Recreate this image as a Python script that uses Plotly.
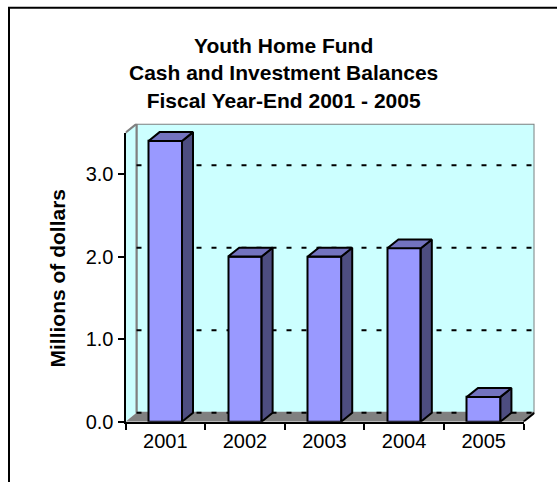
import plotly.graph_objects as go

# ---- data ----
years = ["2001", "2002", "2003", "2004", "2005"]
balances = [3.4, 2.0, 2.0, 2.1, 0.3]          # millions of dollars
y_ticks = [0.0, 1.0, 2.0, 3.0]
y_max = 3.5
title_lines = ["Youth Home Fund", "Cash and Investment Balances", "Fiscal Year-End 2001 - 2005"]
y_title = "Millions of dollars"

# ---- geometry (pixels) ----
W, H = 557, 482
FX0, FX1 = 125.5, 523.5          # front plane, left/right
FY0 = 431.5                      # front plane, value 0
UNIT = 84.5                      # pixels per million
FY_TOP = FY0 - y_max * UNIT
DEPTH_X, DEPTH_Y = 11.0, 9.0     # 3-D depth offset
n = len(years)
CW = (FX1 - FX0) / n             # category width in px
DDX = DEPTH_X / CW               # depth offset in category units
DDY = DEPTH_Y / UNIT             # depth offset in value units
BAR_W = 0.42

FRONT = "#9999FF"
TOP = "#7373BF"
SIDE = "#4D4D80"
WALL = "#CCFFFF"
GRAY = "#808080"
FONT = "Liberation Sans, Arial, sans-serif"


def px_x(p):
    return p / W


def px_y(p):
    return 1 - p / H


xs = list(range(n))
fig = go.Figure()

# front faces of the bars
fig.add_trace(go.Bar(
    x=xs, y=balances, width=BAR_W,
    marker=dict(color=FRONT, line=dict(color="black", width=2)),
    xaxis="x", yaxis="y", hoverinfo="skip", showlegend=False,
))

# side and top faces
side_x, side_y, top_x, top_y = [], [], [], []
for c, v in zip(xs, balances):
    r, l = c + BAR_W / 2, c - BAR_W / 2
    side_x += [r, r + DDX, r + DDX, r, r, None]
    side_y += [0, DDY, v + DDY, v, 0, None]
    top_x += [l, r, r + DDX, l + DDX, l, None]
    top_y += [v, v, v + DDY, v + DDY, v, None]
for fx, fy, col in [(side_x, side_y, SIDE), (top_x, top_y, TOP)]:
    fig.add_trace(go.Scatter(
        x=fx, y=fy, mode="lines", fill="toself", fillcolor=col,
        line=dict(color="black", width=2), xaxis="x", yaxis="y",
        hoverinfo="skip", showlegend=False,
    ))

# axes of the front plane
fig.add_trace(go.Scatter(x=[None], y=[None], xaxis="x2", yaxis="y2",
                         showlegend=False, hoverinfo="skip"))

shapes = []
bx0, bx1 = -0.5 + DDX, n - 0.5 + DDX
# back wall
shapes.append(dict(type="rect", xref="x", yref="y", layer="below",
                   x0=bx0, x1=bx1, y0=DDY, y1=y_max + DDY,
                   fillcolor=WALL, line=dict(color=GRAY, width=2)))
# side wall
shapes.append(dict(type="path", xref="x", yref="y", layer="below",
                   path=f"M -0.5,0 L {bx0},{DDY} L {bx0},{y_max + DDY} L -0.5,{y_max} Z",
                   fillcolor=WALL, line=dict(width=0)))
shapes.append(dict(type="line", xref="x", yref="y", layer="below",
                   x0=-0.5, y0=y_max, x1=bx0, y1=y_max + DDY,
                   line=dict(color=GRAY, width=2)))
shapes.append(dict(type="line", xref="x", yref="y", layer="below",
                   x0=bx0, y0=DDY, x1=bx0, y1=y_max + DDY,
                   line=dict(color=GRAY, width=2)))
# floor
shapes.append(dict(type="path", xref="x", yref="y", layer="below",
                   path=f"M -0.5,0 L {n - 0.5},0 L {bx1},{DDY} L {bx0},{DDY} Z",
                   fillcolor=GRAY, line=dict(width=0)))
shapes.append(dict(type="line", xref="x", yref="y", layer="below",
                   x0=n - 0.5, y0=0, x1=bx1, y1=DDY,
                   line=dict(color="black", width=2)))
# dashed gridlines on the back wall
for v in y_ticks:
    shapes.append(dict(type="line", xref="x", yref="y", layer="below",
                       x0=bx0, x1=bx1, y0=v + DDY, y1=v + DDY,
                       line=dict(color="black", width=2, dash="5px,10px")))
# chart border
shapes.append(dict(type="rect", xref="paper", yref="paper",
                   x0=px_x(9), x1=1.05, y0=-0.05, y1=px_y(8),
                   line=dict(color="black", width=2), fillcolor="rgba(0,0,0,0)"))

annotations = [
    dict(text="<b>" + "<br>".join(title_lines) + "</b>", xref="paper", yref="paper",
         x=px_x(283), y=px_y(75), xanchor="center", yanchor="middle",
         showarrow=False, font=dict(family=FONT, size=21, color="black")),
    dict(text="<b>" + y_title + "</b>", xref="paper", yref="paper", textangle=-90,
         x=px_x(57), y=px_y(285), xanchor="center", yanchor="middle",
         showarrow=False, font=dict(family=FONT, size=21, color="black")),
]

fig.update_layout(
    width=W, height=H, autosize=False,
    margin=dict(l=0, r=0, t=0, b=0),
    paper_bgcolor="white", plot_bgcolor="rgba(0,0,0,0)",
    font=dict(family=FONT, size=20, color="black"),
    bargap=0,
    shapes=shapes, annotations=annotations,
    xaxis=dict(domain=[px_x(FX0), px_x(FX1 + DEPTH_X)],
               range=[-0.5, n - 0.5 + DDX], visible=False, fixedrange=True),
    yaxis=dict(domain=[px_y(FY0), px_y(FY_TOP - DEPTH_Y)],
               range=[0, y_max + DDY], visible=False, fixedrange=True),
    xaxis2=dict(domain=[px_x(FX0), px_x(FX1)], range=[-0.5, n - 0.5],
                anchor="y2", showline=True, linecolor="black", linewidth=2,
                showgrid=False, zeroline=False,
                tickmode="array", tickvals=xs, ticktext=years, ticks="",
                minor=dict(tickmode="array", tickvals=[i - 0.5 for i in range(n + 1)],
                           ticks="outside", ticklen=6, tickwidth=2, tickcolor="black",
                           showgrid=False),
                tickfont=dict(family=FONT, size=20, color="black"), fixedrange=True),
    yaxis2=dict(domain=[px_y(FY0), px_y(FY_TOP)], range=[0, y_max],
                anchor="x2", showline=True, linecolor="black", linewidth=2,
                showgrid=False, zeroline=False,
                tickmode="array", tickvals=y_ticks,
                ticktext=[f"{v:.1f}" for v in y_ticks],
                ticks="outside", ticklen=6, tickwidth=2, tickcolor="black",
                tickfont=dict(family=FONT, size=20, color="black"), fixedrange=True),
)

fig.write_html("out.html")
